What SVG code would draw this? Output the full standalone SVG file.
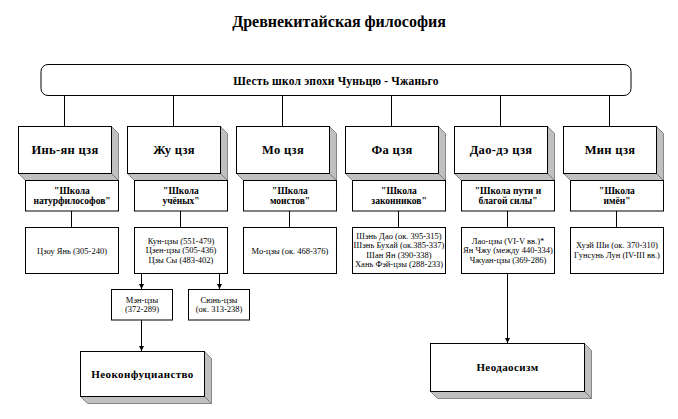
<svg xmlns="http://www.w3.org/2000/svg" width="678" height="419" viewBox="0 0 678 419">
<style>
text{font-family:'Liberation Serif','Times New Roman',serif;fill:#000;text-anchor:middle}
.title{font-size:16px;font-weight:bold}
.main{font-size:11.5px;font-weight:bold;letter-spacing:0.2px}
.big{font-size:12.5px;font-weight:bold;letter-spacing:0.3px}
.sub{font-size:9.5px;font-weight:bold}
.small{font-size:8.5px}
.huge{font-size:11px;font-weight:bold;letter-spacing:0.4px}
.front{fill:#fff;stroke:#000;stroke-width:1}
.side{fill:#c0c0c0;stroke:#707070;stroke-width:0.8}
.box{fill:#fff;stroke:#000;stroke-width:1}
.line{stroke:#000;stroke-width:1;fill:none}
</style>
<defs>
<marker id="arr" markerWidth="6" markerHeight="6" refX="5" refY="3" orient="auto" markerUnits="userSpaceOnUse">
<path d="M0,0.5 L5,3 L0,5.5 Z" fill="#000"/>
</marker>
</defs>
<rect width="678" height="419" fill="#fff"/>
<text class="title" x="339" y="27">Древнекитайская философия</text>

<g id="connectors">
<path class="line" d="M64.5,95.5V126 M173.5,95.5V126 M282.5,95.5V126 M391.5,95.5V126 M500.5,95.5V126 M609.5,95.5V126"/>
<path class="line" d="M71.5,211V227 M180.5,211V227 M289.5,211V227 M398.5,211V227 M507.5,211V227 M616.5,211V227"/>
<path class="line" d="M141.5,273V289" marker-end="url(#arr)"/>
<path class="line" d="M219.5,273V289" marker-end="url(#arr)"/>
<path class="line" d="M141.5,320V351" marker-end="url(#arr)"/>
<path class="line" d="M507.5,273V343" marker-end="url(#arr)"/>
</g>

<g id="root">
<rect x="41" y="64.5" width="590" height="31" rx="7" class="box"/>
<text class="main" x="336" y="85">Шесть школ эпохи Чуньцю - Чжаньго</text>
</g>

<g id="yinyang">
<polygon class="side" points="111.5,126.5 118.5,133.5 118.5,180.5 111.5,173.5"/>
<polygon class="side" points="18.5,173.5 111.5,173.5 118.5,180.5 25.5,180.5"/>
<rect class="front" x="18.5" y="126.5" width="93" height="47"/>
<text class="big" x="65" y="154">Инь-ян цзя</text>
<rect class="box" x="25.5" y="180.5" width="93" height="30.5"/>
<text class="sub" x="72" y="194">"Школа</text>
<text class="sub" x="72" y="204">натурфилософов"</text>
<rect class="box" x="25.5" y="227.5" width="93" height="46"/>
<text class="small" x="72" y="253.5">Цзоу Янь (305-240)</text>
</g>

<g id="zhu">
<polygon class="side" points="220.5,126.5 227.5,133.5 227.5,180.5 220.5,173.5"/>
<polygon class="side" points="127.5,173.5 220.5,173.5 227.5,180.5 134.5,180.5"/>
<rect class="front" x="127.5" y="126.5" width="93" height="47"/>
<text class="big" x="174" y="154">Жу цзя</text>
<rect class="box" x="134.5" y="180.5" width="93" height="30.5"/>
<text class="sub" x="181" y="194">"Школа</text>
<text class="sub" x="181" y="204">учёных"</text>
<rect class="box" x="134.5" y="227.5" width="93" height="46"/>
<text class="small" x="181" y="243.5">Кун-цзы (551-479)</text>
<text class="small" x="181" y="253">Цзен-цзы (505-436)</text>
<text class="small" x="181" y="262.5">Цзы Сы (483-402)</text>
</g>

<g id="mo">
<polygon class="side" points="329.5,126.5 336.5,133.5 336.5,180.5 329.5,173.5"/>
<polygon class="side" points="236.5,173.5 329.5,173.5 336.5,180.5 243.5,180.5"/>
<rect class="front" x="236.5" y="126.5" width="93" height="47"/>
<text class="big" x="283" y="154">Мо цзя</text>
<rect class="box" x="243.5" y="180.5" width="93" height="30.5"/>
<text class="sub" x="290" y="194">"Школа</text>
<text class="sub" x="290" y="204">моистов"</text>
<rect class="box" x="243.5" y="227.5" width="93" height="46"/>
<text class="small" x="290" y="253.5">Мо-цзы (ок. 468-376)</text>
</g>

<g id="fa">
<polygon class="side" points="438.5,126.5 445.5,133.5 445.5,180.5 438.5,173.5"/>
<polygon class="side" points="345.5,173.5 438.5,173.5 445.5,180.5 352.5,180.5"/>
<rect class="front" x="345.5" y="126.5" width="93" height="47"/>
<text class="big" x="392" y="154">Фа цзя</text>
<rect class="box" x="352.5" y="180.5" width="93" height="30.5"/>
<text class="sub" x="399" y="194">"Школа</text>
<text class="sub" x="399" y="204">законников"</text>
<rect class="box" x="352.5" y="227.5" width="93" height="46"/>
<text class="small" x="399" y="238.5">Шэнь Дао (ок. 395-315)</text>
<text class="small" x="399" y="248">Шэнь Бухай (ок.385-337)</text>
<text class="small" x="399" y="257.5">Шан Ян (390-338)</text>
<text class="small" x="399" y="267">Хань Фэй-цзы (288-233)</text>
</g>

<g id="dao">
<polygon class="side" points="547.5,126.5 554.5,133.5 554.5,180.5 547.5,173.5"/>
<polygon class="side" points="454.5,173.5 547.5,173.5 554.5,180.5 461.5,180.5"/>
<rect class="front" x="454.5" y="126.5" width="93" height="47"/>
<text class="big" x="501" y="154">Дао-дэ цзя</text>
<rect class="box" x="461.5" y="180.5" width="93" height="30.5"/>
<text class="sub" x="508" y="194">"Школа пути и</text>
<text class="sub" x="508" y="204">благой силы"</text>
<rect class="box" x="461.5" y="227.5" width="93" height="46"/>
<text class="small" x="508" y="243.5">Лао-цзы (VI-V вв.)*</text>
<text class="small" x="508" y="253">Ян Чжу (между 440-334)</text>
<text class="small" x="508" y="262.5">Чжуан-цзы (369-286)</text>
</g>

<g id="min">
<polygon class="side" points="656.5,126.5 663.5,133.5 663.5,180.5 656.5,173.5"/>
<polygon class="side" points="563.5,173.5 656.5,173.5 663.5,180.5 570.5,180.5"/>
<rect class="front" x="563.5" y="126.5" width="93" height="47"/>
<text class="big" x="610" y="154">Мин цзя</text>
<rect class="box" x="570.5" y="180.5" width="93" height="30.5"/>
<text class="sub" x="617" y="194">"Школа</text>
<text class="sub" x="617" y="204">имён"</text>
<rect class="box" x="570.5" y="227.5" width="93" height="46"/>
<text class="small" x="617" y="248">Хуэй Ши (ок. 370-310)</text>
<text class="small" x="617" y="257.5">Гунсунь Лун (IV-III вв.)</text>
</g>

<g id="mengzi">
<rect class="box" x="111.5" y="289.5" width="61" height="30.5"/>
<text class="small" x="142" y="302.5">Мэн-цзы</text>
<text class="small" x="142" y="312">(372-289)</text>
</g>

<g id="xunzi">
<rect class="box" x="188.5" y="289.5" width="61" height="30.5"/>
<text class="small" x="219" y="302.5">Сюнь-цзы</text>
<text class="small" x="219" y="312">(ок. 313-238)</text>
</g>

<g id="neoconf">
<polygon class="side" points="204.5,351.5 211.5,358.5 211.5,403.5 204.5,396.5"/>
<polygon class="side" points="80.5,396.5 204.5,396.5 211.5,403.5 87.5,403.5"/>
<rect class="front" x="80.5" y="351.5" width="124" height="45"/>
<text class="huge" x="142.5" y="377.5">Неоконфуцианство</text>
</g>

<g id="neodao">
<polygon class="side" points="584.5,343.5 591.5,350.5 591.5,398.5 584.5,391.5"/>
<polygon class="side" points="430.5,391.5 584.5,391.5 591.5,398.5 437.5,398.5"/>
<rect class="front" x="430.5" y="343.5" width="154" height="48"/>
<text class="huge" x="507.5" y="371">Неодаосизм</text>
</g>
</svg>
